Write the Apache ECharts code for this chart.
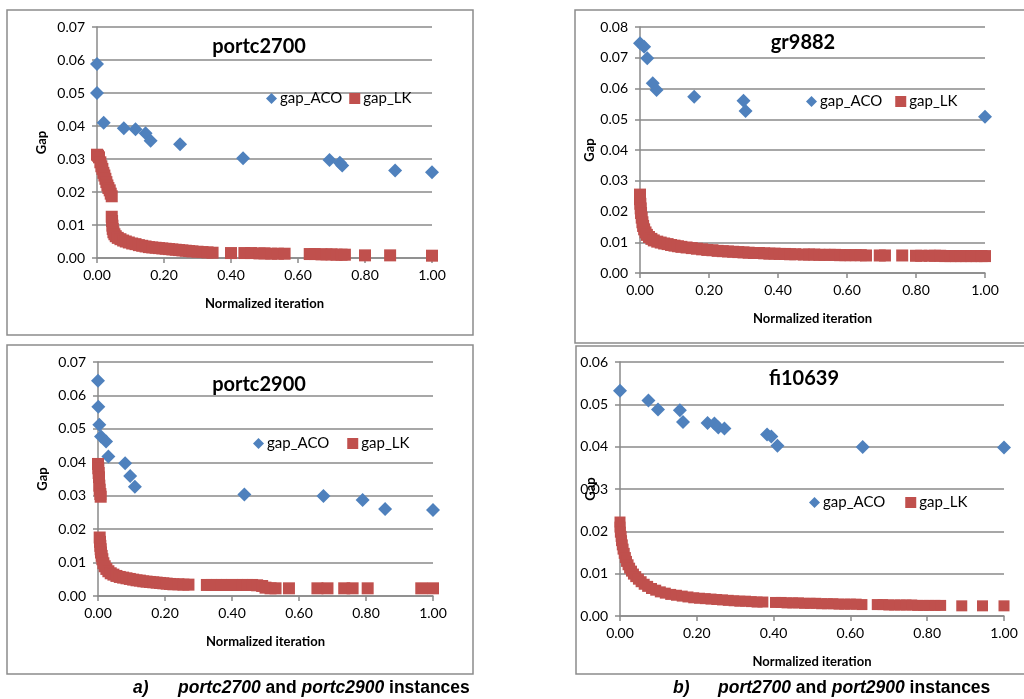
<!DOCTYPE html>
<html>
<head>
<meta charset="utf-8">
<title>Gap vs normalized iteration</title>
<script src="https://cdn.jsdelivr.net/npm/echarts@6/dist/echarts.min.js"></script>
<style>
html, body { margin: 0; padding: 0; background: #fff; }
#main { width: 1024px; height: 699px; }
</style>
</head>
<body>
<div id="main"></div>
<script>
// values: [normalized iteration, gap]
var instanceNames = ['portc2700', 'gr9882', 'portc2900', 'fi10639'];
var seriesNames = ['gap_ACO', 'gap_LK'];
var xTicks = [0, 0.2, 0.4, 0.6, 0.8, 1.0];
var yMaxes = [0.07, 0.08, 0.07, 0.06];

var portc2700Aco = [[0, 0.0588], [0, 0.050], [0.02, 0.041], [0.08, 0.0393], [0.115, 0.039], [0.145, 0.0378],
    [0.16, 0.0355], [0.248, 0.0345], [0.436, 0.0302], [0.694, 0.0297], [0.725, 0.0289], [0.732, 0.028],
    [0.89, 0.0265], [1.0, 0.026]];
var portc2700Lk = [[0, 0.0313], [0.003, 0.031], [0.006, 0.0305], [0.01, 0.029], [0.013, 0.0278], [0.016, 0.027],
    [0.019, 0.0258], [0.022, 0.025], [0.025, 0.024], [0.028, 0.023], [0.031, 0.022], [0.034, 0.0212],
    [0.038, 0.0205], [0.041, 0.0195], [0.044, 0.0187],
    [0.044, 0.0125], [0.045, 0.0112], [0.046, 0.0098], [0.047, 0.0088], [0.049, 0.0078], [0.052, 0.0072],
    [0.056, 0.0066], [0.062, 0.0061], [0.07, 0.0057], [0.078, 0.0053], [0.086, 0.005], [0.095, 0.0047],
    [0.105, 0.0044], [0.115, 0.0042], [0.125, 0.0039], [0.135, 0.0037], [0.145, 0.0035], [0.155, 0.0033],
    [0.165, 0.0032], [0.175, 0.0031], [0.185, 0.003], [0.195, 0.0029], [0.205, 0.0028], [0.215, 0.0027],
    [0.225, 0.0026], [0.235, 0.0025], [0.245, 0.0024], [0.255, 0.0023], [0.265, 0.0022], [0.275, 0.0021],
    [0.285, 0.002], [0.30, 0.0019], [0.315, 0.0018], [0.33, 0.0017], [0.345, 0.0016], [0.40, 0.0015],
    [0.44, 0.0015], [0.46, 0.0015], [0.485, 0.0014], [0.50, 0.0014], [0.52, 0.0013], [0.54, 0.0013],
    [0.56, 0.0013], [0.635, 0.0012], [0.65, 0.0012], [0.67, 0.0011], [0.685, 0.0011], [0.70, 0.0011],
    [0.715, 0.001], [0.73, 0.001], [0.74, 0.001], [0.80, 0.0008], [0.875, 0.0008], [1.0, 0.0007]];

var gr9882Aco = [[0, 0.0747], [0.012, 0.0736], [0.021, 0.0698], [0.037, 0.0617], [0.048, 0.0595],
    [0.157, 0.0573], [0.30, 0.056], [0.306, 0.0527], [1.0, 0.0508]];
var gr9882Lk = [[0, 0.0255], [0, 0.024], [0.001, 0.0225], [0.002, 0.021], [0.003, 0.0195], [0.005, 0.018],
    [0.007, 0.0165], [0.009, 0.0153], [0.012, 0.0142], [0.016, 0.0132], [0.02, 0.0124], [0.026, 0.0117],
    [0.033, 0.0111], [0.04, 0.0106], [0.05, 0.0102], [0.06, 0.0099], [0.07, 0.0096], [0.08, 0.0094],
    [0.09, 0.0091], [0.10, 0.0089], [0.11, 0.0087], [0.12, 0.0085], [0.135, 0.0083], [0.15, 0.0081],
    [0.165, 0.0079], [0.18, 0.0077], [0.195, 0.0075], [0.21, 0.0074], [0.225, 0.0072], [0.24, 0.0071],
    [0.255, 0.007], [0.27, 0.0069], [0.285, 0.0068], [0.30, 0.0067], [0.315, 0.0066], [0.33, 0.0065],
    [0.345, 0.0065], [0.36, 0.0064], [0.375, 0.0063], [0.39, 0.0063], [0.405, 0.0062], [0.42, 0.0062],
    [0.435, 0.0061], [0.45, 0.0061], [0.475, 0.006], [0.49, 0.006], [0.505, 0.006], [0.52, 0.0059],
    [0.535, 0.0059], [0.55, 0.0059], [0.565, 0.0059], [0.58, 0.0058], [0.595, 0.0058], [0.61, 0.0058],
    [0.625, 0.0058], [0.64, 0.0058], [0.655, 0.0057], [0.695, 0.0057], [0.71, 0.0057], [0.76, 0.0057],
    [0.80, 0.0056], [0.815, 0.0056], [0.84, 0.0056], [0.855, 0.0056], [0.87, 0.0056], [0.885, 0.0055],
    [0.90, 0.0055], [0.915, 0.0055], [0.93, 0.0055], [0.945, 0.0055], [0.96, 0.0055], [0.975, 0.0055],
    [0.99, 0.0055], [1.0, 0.0055]];

var portc2900Aco = [[0, 0.0644], [0.001, 0.0566], [0.004, 0.0512], [0.009, 0.0477], [0.024, 0.0462],
    [0.031, 0.0417], [0.081, 0.0397], [0.096, 0.0359], [0.11, 0.0327], [0.437, 0.0304], [0.673, 0.0299],
    [0.79, 0.0287], [0.857, 0.026], [1.0, 0.0257]];
var portc2900Lk = [[0, 0.0395], [0.001, 0.0382], [0.002, 0.0368], [0.003, 0.0355], [0.004, 0.033],
    [0.005, 0.0318], [0.007, 0.0305], [0.008, 0.0297],
    [0.005, 0.0175], [0.006, 0.0162], [0.007, 0.015], [0.008, 0.014], [0.009, 0.013], [0.011, 0.012],
    [0.013, 0.011], [0.016, 0.0098], [0.02, 0.0089], [0.025, 0.0081], [0.031, 0.0074], [0.038, 0.0068],
    [0.046, 0.0064], [0.055, 0.006], [0.065, 0.0057], [0.075, 0.0055], [0.085, 0.0053], [0.095, 0.0051],
    [0.105, 0.0049], [0.115, 0.0047], [0.125, 0.0046], [0.135, 0.0044], [0.145, 0.0043], [0.155, 0.0042],
    [0.165, 0.0041], [0.175, 0.004], [0.185, 0.0039], [0.195, 0.0038], [0.205, 0.0037], [0.215, 0.0036],
    [0.225, 0.0035], [0.24, 0.0035], [0.255, 0.0034], [0.27, 0.0034], [0.325, 0.0033], [0.34, 0.0033],
    [0.355, 0.0033], [0.37, 0.0033], [0.385, 0.0033], [0.40, 0.0033], [0.415, 0.0033], [0.43, 0.0033],
    [0.445, 0.0033], [0.46, 0.0033], [0.475, 0.0032], [0.49, 0.003], [0.50, 0.0025], [0.515, 0.0023],
    [0.53, 0.0023], [0.57, 0.0023], [0.655, 0.0023], [0.685, 0.0023], [0.735, 0.0023], [0.76, 0.0023],
    [0.805, 0.0023], [0.965, 0.0023], [1.0, 0.0023]];

var fi10639Aco = [[0, 0.0532], [0.074, 0.0509], [0.099, 0.0488], [0.156, 0.0486], [0.164, 0.0458],
    [0.228, 0.0456], [0.246, 0.0455], [0.256, 0.0445], [0.272, 0.0443], [0.383, 0.0429], [0.394, 0.0424],
    [0.41, 0.0402], [0.632, 0.0399], [1.0, 0.0398]];
var fi10639Lk = [[0, 0.0222], [0, 0.021], [0.001, 0.0198], [0.003, 0.0188], [0.004, 0.0178], [0.006, 0.0168],
    [0.008, 0.0158], [0.011, 0.0148], [0.014, 0.0138], [0.017, 0.0129], [0.021, 0.0121], [0.025, 0.0113],
    [0.03, 0.0106], [0.035, 0.0099], [0.041, 0.0093], [0.048, 0.0087], [0.055, 0.0081], [0.063, 0.0075],
    [0.072, 0.007], [0.082, 0.0065], [0.093, 0.0061], [0.105, 0.0057], [0.118, 0.0054], [0.132, 0.0051],
    [0.147, 0.0049], [0.162, 0.0047], [0.177, 0.0045], [0.192, 0.0043], [0.207, 0.0042], [0.222, 0.0041],
    [0.237, 0.004], [0.252, 0.0039], [0.267, 0.0038], [0.282, 0.0037], [0.297, 0.0036], [0.312, 0.0035],
    [0.327, 0.0035], [0.342, 0.0034], [0.357, 0.0033], [0.372, 0.0033], [0.405, 0.0032], [0.42, 0.0032],
    [0.435, 0.0031], [0.45, 0.0031], [0.465, 0.0031], [0.48, 0.003], [0.495, 0.003], [0.51, 0.003],
    [0.525, 0.0029], [0.54, 0.0029], [0.555, 0.0029], [0.57, 0.0028], [0.585, 0.0028], [0.60, 0.0028],
    [0.615, 0.0028], [0.63, 0.0027], [0.67, 0.0027], [0.685, 0.0027], [0.70, 0.0026], [0.715, 0.0026],
    [0.73, 0.0026], [0.745, 0.0026], [0.76, 0.0026], [0.775, 0.0025], [0.79, 0.0025], [0.805, 0.0025],
    [0.82, 0.0025], [0.835, 0.0025], [0.89, 0.0024], [0.944, 0.0024], [1.0, 0.0024]];

var acoData = [portc2700Aco, gr9882Aco, portc2900Aco, fi10639Aco];
var lkData = [portc2700Lk, gr9882Lk, portc2900Lk, fi10639Lk];

// layout of the four panels, in px
var panels = [
    {box: [7, 10, 466, 325], grid: [97, 27, 335, 231], title: [259, 37], legend: [266, 91, 7], yGap: 49, sq: 12},
    {box: [575, 10, 460, 333], grid: [640, 27, 345, 246], title: [803, 33], legend: [806, 94, 13], yGap: 44, sq: 12},
    {box: [7, 345, 466, 329], grid: [98, 362, 335, 234], title: [259, 375], legend: [253, 436, 18], yGap: 49, sq: 12},
    {box: [576, 346, 460, 328], grid: [620, 362, 384, 254], title: [804, 369], legend: [809, 495, 20], yGap: 23, sq: 11}
];

var font = 'Lato, "Liberation Sans", sans-serif';
var gridColor = '#8a8a8a';

var chart = echarts.init(document.getElementById('main'), null, {renderer: 'canvas'});

var grids = [], xAxes = [], yAxes = [], titles = [], legends = [], series = [], graphics = [];

panels.forEach(function (p, i) {
    graphics.push({
        type: 'rect', z: -10,
        shape: {x: p.box[0], y: p.box[1], width: p.box[2], height: p.box[3]},
        style: {fill: 'none', stroke: '#8c8c8c', lineWidth: 1.5}
    });
    grids.push({left: p.grid[0], top: p.grid[1], width: p.grid[2], height: p.grid[3], containLabel: false});
    titles.push({
        text: instanceNames[i], left: p.title[0], top: p.title[1], textAlign: 'center', padding: 0,
        textStyle: {fontFamily: font, fontSize: 20, fontWeight: 'bold', color: '#000'}
    });
    legends.push({
        data: seriesNames, left: p.legend[0], top: p.legend[1], itemGap: p.legend[2], padding: 0,
        itemWidth: 11, itemHeight: 11, selectedMode: false,
        textStyle: {fontFamily: font, fontSize: 15, color: '#000', padding: [0, 0, 0, -2]}
    });
    xAxes.push({
        type: 'value', gridIndex: i, min: 0, max: 1, interval: 0.2,
        name: 'Normalized iteration', nameLocation: 'middle', nameGap: 39,
        nameTextStyle: {fontFamily: font, fontSize: 13, fontWeight: 'bold', color: '#000'},
        axisLine: {show: true, lineStyle: {color: gridColor, width: 1.5}},
        axisTick: {show: true, length: 5, lineStyle: {color: gridColor, width: 1.5}},
        axisLabel: {
            margin: 10, fontFamily: font, fontSize: 14, color: '#000',
            formatter: function (v) { return v.toFixed(2); }
        },
        splitLine: {show: false}
    });
    yAxes.push({
        type: 'value', gridIndex: i, min: 0, max: yMaxes[i], interval: 0.01,
        name: 'Gap', nameLocation: 'middle', nameGap: p.yGap, nameRotate: 90, nameMoveOverlap: false,
        nameTextStyle: {fontFamily: font, fontSize: 13, fontWeight: 'bold', color: '#000'},
        axisLine: {show: true, lineStyle: {color: gridColor, width: 1.5}},
        axisTick: {show: true, length: 5, lineStyle: {color: gridColor, width: 1.5}},
        axisLabel: {
            margin: 12, fontFamily: font, fontSize: 14, color: '#000',
            formatter: function (v) { return v.toFixed(2); }
        },
        splitLine: {show: true, lineStyle: {color: gridColor, width: 1.5}}
    });
    series.push({
        name: 'gap_ACO', type: 'scatter', xAxisIndex: i, yAxisIndex: i,
        symbol: 'diamond', symbolSize: 14, itemStyle: {color: '#4F81BD', opacity: 1},
        data: acoData[i]
    });
    series.push({
        name: 'gap_LK', type: 'scatter', xAxisIndex: i, yAxisIndex: i,
        symbol: 'rect', symbolSize: p.sq, itemStyle: {color: '#C0504D', opacity: 1},
        data: lkData[i]
    });
});

// figure captions under each column
var capStyle = {fontFamily: '"Liberation Sans", Arial, sans-serif', fontSize: 17.5, fontWeight: 'bold', fill: '#000'};
function caption(x, label, first, second) {
    graphics.push({
        type: 'text', x: x, y: 688,
        style: echarts.util.extend({text: label, fontStyle: 'italic', verticalAlign: 'middle'}, capStyle)
    });
    graphics.push({
        type: 'text', x: x + 45, y: 688,
        style: echarts.util.extend({
            text: '{i|' + first + '} and {i|' + second + '} instances',
            verticalAlign: 'middle',
            rich: {i: {fontStyle: 'italic', fontWeight: 'bold', fontSize: 17.5, fontFamily: capStyle.fontFamily}}
        }, capStyle)
    });
}
caption(133, 'a)', 'portc2700', 'portc2900');
caption(673, 'b)', 'port2700', 'port2900');

chart.setOption({
    animation: false,
    backgroundColor: '#fff',
    title: titles,
    legend: legends,
    grid: grids,
    xAxis: xAxes,
    yAxis: yAxes,
    series: series,
    graphic: graphics
});
</script>
</body>
</html>
